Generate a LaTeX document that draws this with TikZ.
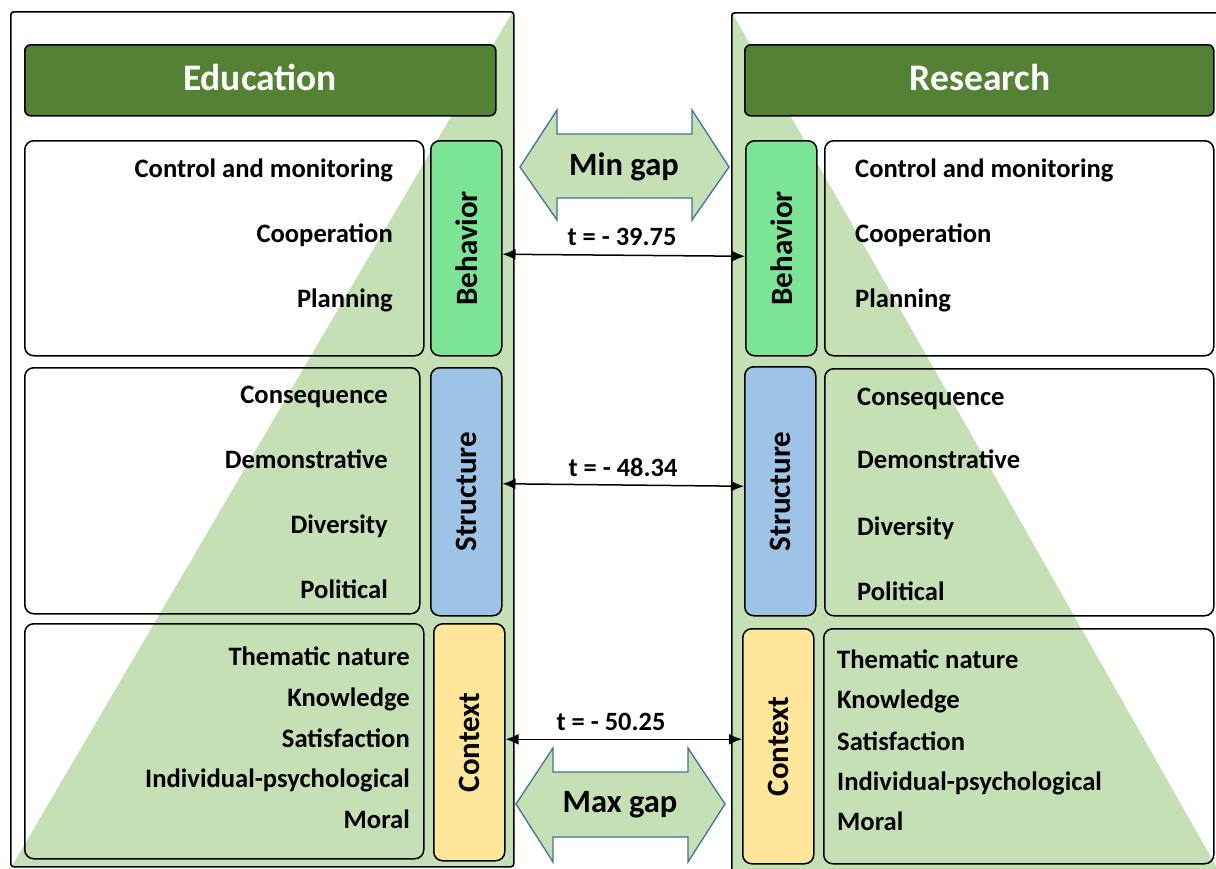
\documentclass[tikz,border=0pt]{standalone}
\usepackage{fontspec}
\setmainfont{Carlito}
\usetikzlibrary{calc,arrows.meta}

\definecolor{headgreen}{HTML}{548235}
\definecolor{paleGreen}{HTML}{C5E0B4}
\definecolor{behgreen}{HTML}{7BE495}
\definecolor{strblue}{HTML}{9DC3E6}
\definecolor{ctxyellow}{HTML}{FFE699}
\definecolor{gapblue}{HTML}{41719C}

\begin{document}
\begin{tikzpicture}[x=1pt,y=-1pt,
  panel/.style={draw, line width=1.6pt, rounded corners=3pt, inner sep=0pt, anchor=north west},
  headbox/.style={draw, line width=1.6pt, rounded corners=6pt, fill=headgreen, inner sep=0pt, anchor=north west},
  headtext/.style={font=\fontsize{37.5}{40}\selectfont\bfseries, text=white, inner sep=0pt, anchor=base},
  itembox/.style={draw, line width=1.5pt, rounded corners=9pt, inner sep=0pt, anchor=north west},
  tagbox/.style={draw, line width=1.5pt, rounded corners=9pt, inner sep=0pt, anchor=north west},
  tagtext/.style={rotate=90, font=\fontsize{31}{34}\selectfont\bfseries, inner sep=0pt},
  itemL/.style={font=\fontsize{26.6}{30}\selectfont\bfseries, inner sep=0pt, anchor=base east},
  itemR/.style={font=\fontsize{26.6}{30}\selectfont\bfseries, inner sep=0pt, anchor=base west},
  tval/.style={font=\fontsize{26.4}{30}\selectfont\bfseries, inner sep=0pt, anchor=base},
  gapshape/.style={draw=gapblue, fill=paleGreen, line width=1.3pt, line join=miter},
  gaptext/.style={font=\fontsize{32.5}{36}\selectfont\bfseries, inner sep=0pt},
  tarrow/.style={{Latex[length=13pt,width=11pt]}-{Latex[length=13pt,width=11pt]}, line width=1.5pt}
]
\useasboundingbox (0,0) rectangle (1216,868);

% green pyramid halves behind both panels
\fill[paleGreen] (513,11) -- (513,866) -- (12,866) -- cycle;
\fill[paleGreen] (731,11) -- (731,870) -- (1230,870) -- (1216,866) -- cycle;

% outer panels
\node[panel, minimum width=503, minimum height=855] (lpanel) at (10,11) {};
\node[panel, minimum width=495, minimum height=862] (rpanel) at (731,12) {};

% headings
\node[headbox, minimum width=471, minimum height=71] (lhead) at (24,44) {};
\node[headtext] (lheadtxt) at (260,90) {Education};
\node[headbox, minimum width=469, minimum height=71] (rhead) at (744,44) {};
\node[headtext] (rheadtxt) at (980,90) {Research};

% left column: item boxes and tags
\node[itembox, minimum width=399, minimum height=215] (lbehbox) at (24,140) {};
\node[tagbox, fill=behgreen, minimum width=71, minimum height=215] (lbeh) at (430,140) {};
\node[tagtext] (lbehtxt) at (lbeh.center) {Behavior};

\node[itembox, minimum width=395, minimum height=246] (lstrbox) at (24,367) {};
\node[tagbox, fill=strblue, minimum width=71, minimum height=248] (lstr) at (430,367) {};
\node[tagtext] (lstrtxt) at (lstr.center) {Structure};

\node[itembox, minimum width=399, minimum height=235] (lctxbox) at (24,623) {};
\node[tagbox, fill=ctxyellow, minimum width=71, minimum height=237] (lctx) at (433,623) {};
\node[tagtext] (lctxtxt) at (lctx.center) {Context};

% right column: tags and item boxes
\node[tagbox, fill=behgreen, minimum width=71, minimum height=215] (rbeh) at (745,140) {};
\node[tagtext] (rbehtxt) at (rbeh.center) {Behavior};
\node[itembox, minimum width=389, minimum height=215] (rbehbox) at (824,140) {};

\node[tagbox, fill=strblue, minimum width=71, minimum height=249] (rstr) at (744,366) {};
\node[tagtext] (rstrtxt) at (rstr.center) {Structure};
\node[itembox, minimum width=389, minimum height=247] (rstrbox) at (824,368) {};

\node[tagbox, fill=ctxyellow, minimum width=71, minimum height=235] (rctx) at (742,628) {};
\node[tagtext] (rctxtxt) at (rctx.center) {Context};
\node[itembox, minimum width=390, minimum height=235] (rctxbox) at (823,628) {};

% left items
\node[itemL] (l1) at (393,177) {Control and monitoring};
\node[itemL] (l2) at (393,242) {Cooperation};
\node[itemL] (l3) at (393,307) {Planning};
\node[itemL] (l4) at (388,403) {Consequence};
\node[itemL] (l5) at (388,468) {Demonstrative};
\node[itemL] (l6) at (388,533) {Diversity};
\node[itemL] (l7) at (388,598) {Political};
\node[itemL] (l8) at (410,665) {Thematic nature};
\node[itemL] (l9) at (410,706) {Knowledge};
\node[itemL] (l10) at (410,747) {Satisfaction};
\node[itemL] (l11) at (410,787) {Individual-psychological};
\node[itemL] (l12) at (410,828) {Moral};

% right items
\node[itemR] (r1) at (855,177) {Control and monitoring};
\node[itemR] (r2) at (855,242) {Cooperation};
\node[itemR] (r3) at (855,307) {Planning};
\node[itemR] (r4) at (857,405) {Consequence};
\node[itemR] (r5) at (857,468) {Demonstrative};
\node[itemR] (r6) at (857,535) {Diversity};
\node[itemR] (r7) at (857,600) {Political};
\node[itemR] (r8) at (837,668) {Thematic nature};
\node[itemR] (r9) at (837,708) {Knowledge};
\node[itemR] (r10) at (837,750) {Satisfaction};
\node[itemR] (r11) at (837,790) {Individual-psychological};
\node[itemR] (r12) at (837,830) {Moral};

% comparison arrows with t values
\draw[tarrow] ($(lbeh.east)+(0,6)$) -- ($(rbeh.west)+(0,8)$);
\node[tval] (t1) at (622,245) {t = - 39.75};
\draw[tarrow] ($(lstr.east)+(0,-8)$) -- ($(rstr.west)+(0,-5)$);
\node[tval] (t2) at (623,476) {t = - 48.34};
\draw[tarrow] ($(lctx.east)+(0,-3)$) -- ($(rctx.west)+(0,-7)$);
\node[tval] (t3) at (611,730) {t = - 50.25};

% gap block arrows
\draw[gapshape] (520,167) -- (557,110) -- (557,134) -- (692,134) -- (692,110) -- (729,167)
  -- (692,220) -- (692,198) -- (557,198) -- (557,220) -- cycle;
\node[gaptext] (mingap) at (624,167) {Min gap};
\draw[gapshape] (516,804) -- (553,748) -- (553,772) -- (688,772) -- (688,748) -- (725,804)
  -- (688,862) -- (688,837) -- (553,837) -- (553,862) -- cycle;
\node[gaptext] (maxgap) at (620,805) {Max gap};
\end{tikzpicture}
\end{document}
